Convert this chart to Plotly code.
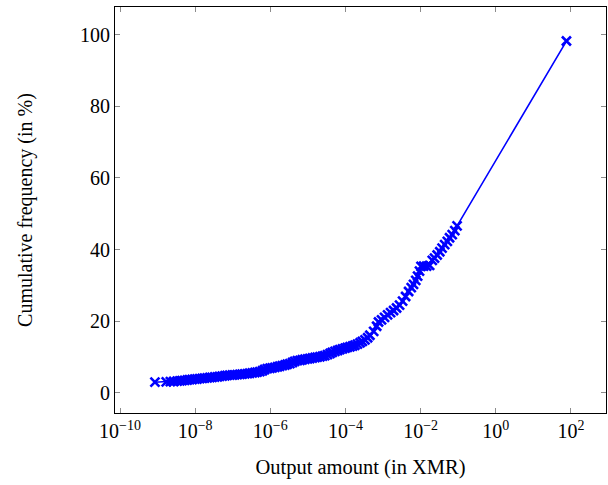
import plotly.graph_objects as go

# log10 of output amount (XMR) and cumulative frequency (%)
log_amount = [
    -9.07, -8.77, -8.66, -8.57, -8.48, -8.41,
    -8.35, -8.28, -8.21, -8.15, -8.08, -8.01, -7.95, -7.88, -7.81, -7.75,
    -7.68, -7.61, -7.55, -7.48, -7.41, -7.35, -7.28, -7.21, -7.15, -7.08,
    -7.01, -6.95, -6.88, -6.81, -6.75, -6.68, -6.61, -6.55, -6.48, -6.41,
    -6.35, -6.28, -6.21, -6.15, -6.08, -6.01, -5.95, -5.88, -5.81, -5.75,
    -5.68, -5.61, -5.55, -5.48, -5.41, -5.35, -5.28, -5.21, -5.15, -5.08,
    -5.01, -4.95, -4.88, -4.81, -4.75, -4.68, -4.61, -4.55, -4.48, -4.41,
    -4.35, -4.28, -4.21, -4.15, -4.08, -4.01, -3.95, -3.88, -3.81, -3.75,
    -3.68, -3.61, -3.55, -3.48, -3.41, -3.35,
    -3.25, -3.17, -3.12, -3.04, -2.96, -2.88, -2.80, -2.72, -2.64, -2.56,
    -2.48, -2.40, -2.32, -2.25, -2.19, -2.13, -2.08, -2.03, -1.99, -1.92,
    -1.84, -1.76, -1.69, -1.63, -1.56, -1.49, -1.43, -1.36, -1.29, -1.23,
    -1.16, -1.09, -1.03,
    1.88,
]
cum_freq = [
    3.0, 3.1, 3.15, 3.2, 3.3, 3.35,
    3.45, 3.5, 3.6, 3.7, 3.75, 3.85, 3.9, 4.0, 4.05, 4.15,
    4.2, 4.3, 4.35, 4.45, 4.5, 4.6, 4.7, 4.8, 4.9, 4.95,
    5.0, 5.05, 5.1, 5.2, 5.25, 5.3, 5.4, 5.5, 5.6, 5.7,
    5.8, 5.95, 6.2, 6.55, 6.8, 6.9, 7.0, 7.15, 7.3, 7.45,
    7.6, 7.8, 8.0, 8.2, 8.5, 8.8, 9.0, 9.1, 9.25, 9.4,
    9.5, 9.6, 9.75, 9.9, 10.0, 10.1, 10.25, 10.4, 10.7, 11.0,
    11.3, 11.6, 11.85, 12.1, 12.3, 12.5, 12.7, 12.9, 13.1, 13.3,
    13.6, 14.0, 14.4, 14.8, 15.4, 16.1,
    17.2, 18.6, 19.8, 20.4, 21.1, 21.8, 22.4, 23.0, 23.7, 24.5,
    25.6, 26.9, 28.3, 29.4, 30.3, 31.4, 32.6, 34.0, 35.3, 35.4,
    35.4, 35.6, 37.0, 37.6, 38.5, 39.4, 40.4, 41.4, 42.3, 43.3,
    44.2, 45.3, 46.6,
    98.2,
]
amount = [10 ** v for v in log_amount]

x_tick_exps = [-10, -8, -6, -4, -2, 0, 2]
x_tick_vals = [10.0 ** e for e in x_tick_exps]
x_tick_text = [f"10<sup>{str(e).replace('-', '−')}</sup>" for e in x_tick_exps]
y_tick_vals = [0, 20, 40, 60, 80, 100]

FONT = "Liberation Serif"
BLUE = "#0000ff"

fig = go.Figure(
    go.Scatter(
        x=amount,
        y=cum_freq,
        mode="lines+markers",
        line=dict(color=BLUE, width=1.6),
        marker=dict(symbol="x-thin", size=9, line=dict(color=BLUE, width=2.6)),
        showlegend=False,
    )
)

axis_common = dict(
    showline=True,
    linecolor="black",
    linewidth=1,
    mirror="ticks",
    ticks="inside",
    ticklen=5,
    tickwidth=1,
    tickcolor="#8c8c8c",
    showgrid=False,
    zeroline=False,
    tickfont=dict(family=FONT, size=20, color="black"),
)

fig.update_xaxes(
    type="log",
    range=[-10.133, 2.933],
    tickvals=x_tick_vals,
    ticktext=x_tick_text,
    title=dict(text="Output amount (in XMR)", font=dict(family=FONT, size=20.5, color="black"), standoff=18),
    **axis_common,
)
fig.update_yaxes(
    range=[-5.6, 107.7],
    tickvals=y_tick_vals,
    title=dict(text="Cumulative frequency (in %)", font=dict(family=FONT, size=20, color="black"), standoff=42),
    **axis_common,
)

fig.update_layout(
    width=608,
    height=485,
    margin=dict(l=115, r=2, t=7, b=72),
    paper_bgcolor="white",
    plot_bgcolor="white",
    font=dict(family=FONT, size=20, color="black"),
)

fig.write_html("out.html")
